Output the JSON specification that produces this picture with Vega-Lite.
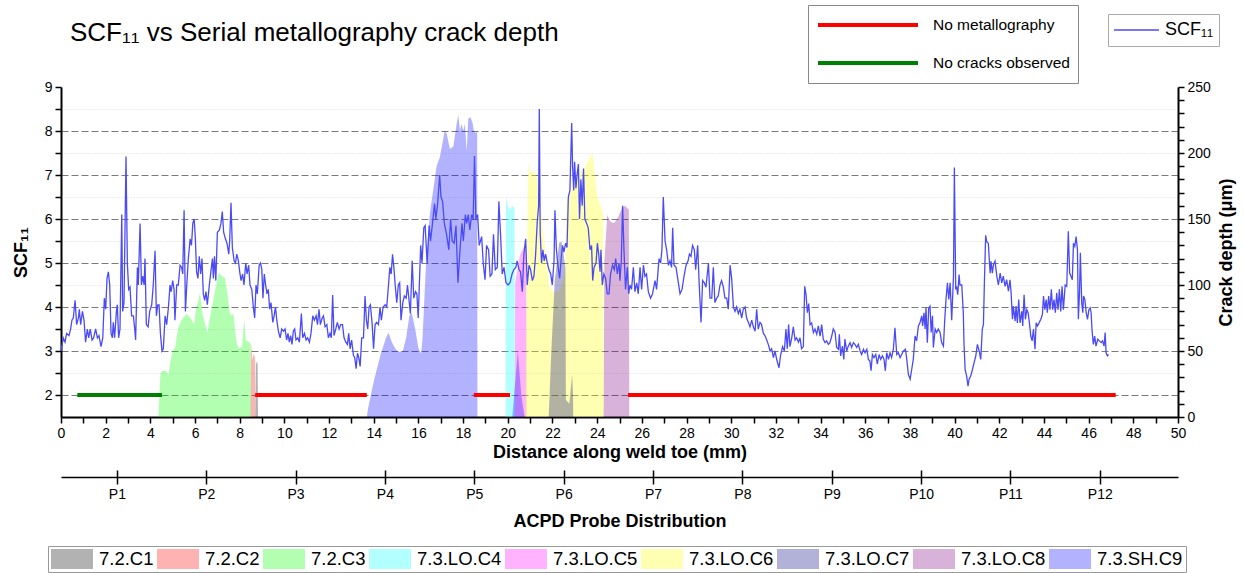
{
  "$schema": "https://vega.github.io/schema/vega-lite/v6.json",
  "width": 1117,
  "height": 330,
  "autosize": {"type": "none"},
  "padding": {"left": 61, "top": 87, "right": 66, "bottom": 156},
  "background": "white",
  "config": {
    "font": "Liberation Sans",
    "view": {"stroke": null},
    "axis": {"labelFont": "Liberation Sans", "titleFont": "Liberation Sans", "labelColor": "black", "titleColor": "black", "domainColor": "black", "tickColor": "black"},
    "legend": {"labelFont": "Liberation Sans", "labelColor": "black"}
  },
  "title": {"text": "SCF₁₁ vs Serial metallography crack depth", "anchor": "start", "frame": "group", "dx": 9, "offset": -62, "baseline": "alphabetic", "fontSize": 26, "fontWeight": "normal", "color": "black", "font": "Liberation Sans"},
  "datasets": {
    "scf": [
      {"mm":0.00,"scf":3.0},{"mm":0.10,"scf":3.3},{"mm":0.18,"scf":3.2},{"mm":0.25,"scf":3.4},{"mm":0.36,"scf":3.35},{"mm":0.43,"scf":3.5},{"mm":0.49,"scf":3.7},{"mm":0.55,"scf":3.75},{"mm":0.63,"scf":4.15},{"mm":0.70,"scf":3.6},{"mm":0.78,"scf":3.75},{"mm":0.82,"scf":3.95},{"mm":0.88,"scf":3.6},{"mm":0.96,"scf":3.9},{"mm":1.03,"scf":3.7},{"mm":1.10,"scf":3.2},{"mm":1.18,"scf":3.5},{"mm":1.24,"scf":3.3},{"mm":1.31,"scf":3.5},{"mm":1.39,"scf":3.25},{"mm":1.46,"scf":3.3},{"mm":1.55,"scf":3.5},{"mm":1.63,"scf":3.3},{"mm":1.70,"scf":3.35},{"mm":1.79,"scf":3.1},{"mm":1.87,"scf":3.3},{"mm":1.94,"scf":4.2},{"mm":2.00,"scf":3.95},{"mm":2.06,"scf":4.65},{"mm":2.12,"scf":4.8},{"mm":2.18,"scf":4.5},{"mm":2.24,"scf":3.4},{"mm":2.30,"scf":3.3},{"mm":2.34,"scf":3.65},{"mm":2.40,"scf":3.3},{"mm":2.48,"scf":3.9},{"mm":2.52,"scf":4.05},{"mm":2.58,"scf":3.3},{"mm":2.64,"scf":3.5},{"mm":2.72,"scf":6.1},{"mm":2.76,"scf":3.9},{"mm":2.82,"scf":4.1},{"mm":2.91,"scf":7.42},{"mm":2.97,"scf":5.0},{"mm":3.03,"scf":4.4},{"mm":3.09,"scf":4.45},{"mm":3.16,"scf":3.8},{"mm":3.24,"scf":3.8},{"mm":3.30,"scf":3.5},{"mm":3.34,"scf":3.25},{"mm":3.42,"scf":4.9},{"mm":3.46,"scf":4.5},{"mm":3.54,"scf":5.9},{"mm":3.60,"scf":4.5},{"mm":3.66,"scf":4.7},{"mm":3.72,"scf":4.5},{"mm":3.76,"scf":5.1},{"mm":3.82,"scf":3.6},{"mm":3.90,"scf":3.55},{"mm":3.97,"scf":3.9},{"mm":4.06,"scf":4.05},{"mm":4.13,"scf":4.5},{"mm":4.21,"scf":5.28},{"mm":4.27,"scf":3.8},{"mm":4.33,"scf":4.05},{"mm":4.39,"scf":4.05},{"mm":4.45,"scf":3.4},{"mm":4.52,"scf":3.0},{"mm":4.58,"scf":3.05},{"mm":4.66,"scf":3.8},{"mm":4.73,"scf":3.6},{"mm":4.81,"scf":4.0},{"mm":4.88,"scf":4.5},{"mm":4.93,"scf":4.35},{"mm":5.00,"scf":4.6},{"mm":5.06,"scf":4.4},{"mm":5.10,"scf":3.7},{"mm":5.18,"scf":4.5},{"mm":5.25,"scf":4.5},{"mm":5.33,"scf":4.95},{"mm":5.40,"scf":4.9},{"mm":5.45,"scf":4.75},{"mm":5.51,"scf":6.2},{"mm":5.57,"scf":3.9},{"mm":5.63,"scf":4.5},{"mm":5.70,"scf":5.1},{"mm":5.78,"scf":5.55},{"mm":5.84,"scf":5.4},{"mm":5.90,"scf":5.9},{"mm":5.96,"scf":6.0},{"mm":6.01,"scf":5.6},{"mm":6.07,"scf":4.8},{"mm":6.13,"scf":4.65},{"mm":6.19,"scf":5.15},{"mm":6.25,"scf":4.75},{"mm":6.31,"scf":5.1},{"mm":6.37,"scf":4.3},{"mm":6.43,"scf":4.15},{"mm":6.49,"scf":4.35},{"mm":6.55,"scf":4.05},{"mm":6.64,"scf":4.5},{"mm":6.72,"scf":4.85},{"mm":6.78,"scf":5.1},{"mm":6.82,"scf":4.65},{"mm":6.87,"scf":5.15},{"mm":6.93,"scf":4.6},{"mm":7.00,"scf":5.7},{"mm":7.09,"scf":5.75},{"mm":7.16,"scf":5.9},{"mm":7.22,"scf":6.17},{"mm":7.28,"scf":5.7},{"mm":7.36,"scf":5.55},{"mm":7.43,"scf":5.45},{"mm":7.51,"scf":5.2},{"mm":7.55,"scf":5.5},{"mm":7.61,"scf":6.37},{"mm":7.67,"scf":5.35},{"mm":7.75,"scf":5.05},{"mm":7.81,"scf":5.0},{"mm":7.87,"scf":5.2},{"mm":7.94,"scf":5.05},{"mm":8.00,"scf":4.8},{"mm":8.06,"scf":4.6},{"mm":8.13,"scf":4.75},{"mm":8.19,"scf":4.5},{"mm":8.27,"scf":5.0},{"mm":8.33,"scf":4.75},{"mm":8.40,"scf":4.95},{"mm":8.46,"scf":4.5},{"mm":8.54,"scf":4.4},{"mm":8.61,"scf":4.0},{"mm":8.67,"scf":3.75},{"mm":8.73,"scf":4.5},{"mm":8.79,"scf":4.3},{"mm":8.87,"scf":4.95},{"mm":8.93,"scf":5.0},{"mm":8.99,"scf":4.85},{"mm":9.04,"scf":4.2},{"mm":9.10,"scf":4.75},{"mm":9.16,"scf":4.5},{"mm":9.22,"scf":4.3},{"mm":9.28,"scf":4.4},{"mm":9.34,"scf":3.95},{"mm":9.40,"scf":4.1},{"mm":9.48,"scf":3.65},{"mm":9.54,"scf":3.8},{"mm":9.60,"scf":4.0},{"mm":9.66,"scf":3.7},{"mm":9.73,"scf":3.45},{"mm":9.81,"scf":3.3},{"mm":9.88,"scf":3.5},{"mm":9.96,"scf":3.45},{"mm":10.03,"scf":3.5},{"mm":10.10,"scf":3.25},{"mm":10.16,"scf":3.4},{"mm":10.22,"scf":3.2},{"mm":10.28,"scf":3.35},{"mm":10.34,"scf":3.15},{"mm":10.40,"scf":3.45},{"mm":10.46,"scf":3.5},{"mm":10.52,"scf":3.25},{"mm":10.60,"scf":3.3},{"mm":10.67,"scf":3.2},{"mm":10.76,"scf":3.85},{"mm":10.82,"scf":3.3},{"mm":10.90,"scf":3.4},{"mm":10.97,"scf":3.25},{"mm":11.04,"scf":3.3},{"mm":11.12,"scf":3.2},{"mm":11.19,"scf":3.4},{"mm":11.27,"scf":3.8},{"mm":11.34,"scf":3.7},{"mm":11.42,"scf":3.8},{"mm":11.48,"scf":3.6},{"mm":11.55,"scf":3.95},{"mm":11.61,"scf":3.6},{"mm":11.69,"scf":3.75},{"mm":11.75,"scf":3.8},{"mm":11.82,"scf":3.55},{"mm":11.90,"scf":3.6},{"mm":11.97,"scf":3.3},{"mm":12.04,"scf":3.4},{"mm":12.10,"scf":3.3},{"mm":12.16,"scf":4.27},{"mm":12.22,"scf":3.35},{"mm":12.30,"scf":3.5},{"mm":12.37,"scf":3.65},{"mm":12.45,"scf":3.5},{"mm":12.52,"scf":3.6},{"mm":12.60,"scf":3.6},{"mm":12.67,"scf":3.3},{"mm":12.75,"scf":3.2},{"mm":12.82,"scf":3.15},{"mm":12.88,"scf":3.4},{"mm":12.94,"scf":3.05},{"mm":13.01,"scf":3.25},{"mm":13.09,"scf":2.9},{"mm":13.15,"scf":2.85},{"mm":13.21,"scf":2.6},{"mm":13.27,"scf":2.95},{"mm":13.33,"scf":2.85},{"mm":13.39,"scf":2.65},{"mm":13.46,"scf":3.3},{"mm":13.54,"scf":3.3},{"mm":13.61,"scf":4.25},{"mm":13.67,"scf":3.7},{"mm":13.73,"scf":3.5},{"mm":13.79,"scf":4.0},{"mm":13.85,"scf":4.05},{"mm":13.93,"scf":3.6},{"mm":13.99,"scf":3.05},{"mm":14.06,"scf":3.6},{"mm":14.13,"scf":3.65},{"mm":14.21,"scf":3.6},{"mm":14.28,"scf":4.0},{"mm":14.34,"scf":3.7},{"mm":14.42,"scf":4.0},{"mm":14.51,"scf":4.05},{"mm":14.58,"scf":4.0},{"mm":14.66,"scf":4.5},{"mm":14.72,"scf":4.9},{"mm":14.78,"scf":4.75},{"mm":14.84,"scf":5.2},{"mm":14.90,"scf":4.9},{"mm":14.96,"scf":4.5},{"mm":15.03,"scf":4.1},{"mm":15.10,"scf":4.5},{"mm":15.16,"scf":4.55},{"mm":15.22,"scf":3.7},{"mm":15.30,"scf":4.1},{"mm":15.37,"scf":4.25},{"mm":15.45,"scf":4.2},{"mm":15.51,"scf":4.5},{"mm":15.57,"scf":4.2},{"mm":15.64,"scf":3.85},{"mm":15.72,"scf":5.05},{"mm":15.79,"scf":4.2},{"mm":15.87,"scf":4.35},{"mm":15.93,"scf":4.3},
      {"mm":15.99,"scf":3.75},{"mm":16.10,"scf":5.4},{"mm":16.16,"scf":5.0},{"mm":16.24,"scf":5.8},{"mm":16.30,"scf":5.85},{"mm":16.39,"scf":5.0},{"mm":16.48,"scf":5.85},{"mm":16.54,"scf":5.5},{"mm":16.63,"scf":5.9},{"mm":16.72,"scf":6.35},{"mm":16.78,"scf":6.0},{"mm":16.86,"scf":6.35},{"mm":16.95,"scf":7.0},{"mm":17.01,"scf":6.5},{"mm":17.08,"scf":6.4},{"mm":17.16,"scf":5.9},{"mm":17.26,"scf":5.65},{"mm":17.36,"scf":5.3},{"mm":17.44,"scf":6.0},{"mm":17.51,"scf":5.5},{"mm":17.60,"scf":5.45},{"mm":17.68,"scf":5.85},{"mm":17.77,"scf":4.55},{"mm":17.86,"scf":5.3},{"mm":17.95,"scf":5.9},{"mm":18.01,"scf":5.5},{"mm":18.10,"scf":6.1},{"mm":18.16,"scf":5.9},{"mm":18.23,"scf":6.1},{"mm":18.30,"scf":5.75},{"mm":18.38,"scf":6.1},{"mm":18.45,"scf":6.0},{"mm":18.51,"scf":7.43},{"mm":18.57,"scf":6.0},{"mm":18.65,"scf":6.1},{"mm":18.72,"scf":5.4},{"mm":18.83,"scf":5.6},{"mm":18.90,"scf":5.0},{"mm":18.98,"scf":4.62},{"mm":19.05,"scf":5.4},{"mm":19.14,"scf":5.3},{"mm":19.21,"scf":4.7},{"mm":19.29,"scf":4.75},{"mm":19.36,"scf":5.65},{"mm":19.44,"scf":4.85},{"mm":19.53,"scf":4.9},{"mm":19.60,"scf":6.4},{"mm":19.68,"scf":5.6},{"mm":19.75,"scf":4.75},{"mm":19.83,"scf":4.9},{"mm":19.92,"scf":4.55},{"mm":20.01,"scf":4.5},{"mm":20.10,"scf":4.55},{"mm":20.19,"scf":4.75},{"mm":20.27,"scf":4.85},{"mm":20.36,"scf":4.9},{"mm":20.42,"scf":5.05},{"mm":20.50,"scf":4.85},{"mm":20.57,"scf":4.8},{"mm":20.65,"scf":4.35},{"mm":20.72,"scf":5.2},{"mm":20.80,"scf":5.55},{"mm":20.87,"scf":4.5},{"mm":20.95,"scf":4.95},{"mm":21.02,"scf":4.85},{"mm":21.10,"scf":4.6},{"mm":21.17,"scf":4.7},{"mm":21.24,"scf":5.15},{"mm":21.32,"scf":5.95},{"mm":21.38,"scf":6.3},{"mm":21.41,"scf":8.5},{"mm":21.45,"scf":5.7},{"mm":21.51,"scf":5.0},{"mm":21.57,"scf":5.3},{"mm":21.63,"scf":5.05},{"mm":21.69,"scf":5.2},{"mm":21.77,"scf":5.0},{"mm":21.84,"scf":4.85},{"mm":21.92,"scf":4.75},{"mm":21.99,"scf":4.5},{"mm":22.07,"scf":5.05},{"mm":22.11,"scf":6.2},{"mm":22.17,"scf":5.35},{"mm":22.24,"scf":4.95},{"mm":22.32,"scf":4.65},{"mm":22.39,"scf":5.1},{"mm":22.45,"scf":5.4},{"mm":22.51,"scf":5.25},{"mm":22.59,"scf":5.45},{"mm":22.65,"scf":5.35},{"mm":22.71,"scf":6.5},{"mm":22.78,"scf":6.65},{"mm":22.86,"scf":8.18},{"mm":22.90,"scf":7.2},{"mm":22.95,"scf":6.65},{"mm":22.99,"scf":7.3},{"mm":23.05,"scf":6.7},{"mm":23.10,"scf":7.0},{"mm":23.16,"scf":7.25},{"mm":23.21,"scf":6.0},{"mm":23.27,"scf":6.9},{"mm":23.33,"scf":6.3},{"mm":23.39,"scf":7.15},{"mm":23.45,"scf":6.0},{"mm":23.53,"scf":5.9},{"mm":23.60,"scf":5.8},{"mm":23.68,"scf":5.3},{"mm":23.75,"scf":5.4},{"mm":23.80,"scf":4.6},{"mm":23.86,"scf":4.9},{"mm":23.95,"scf":5.0},{"mm":24.01,"scf":5.45},{"mm":24.07,"scf":5.2},{"mm":24.13,"scf":4.8},{"mm":24.17,"scf":5.3},{"mm":24.23,"scf":4.5},{"mm":24.30,"scf":4.75},{"mm":24.38,"scf":4.65},{"mm":24.45,"scf":4.3},{"mm":24.53,"scf":4.3},{"mm":24.60,"scf":4.75},{"mm":24.69,"scf":4.95},{"mm":24.77,"scf":4.85},{"mm":24.83,"scf":5.1},{"mm":24.90,"scf":4.75},{"mm":24.98,"scf":5.0},{"mm":25.02,"scf":4.6},{"mm":25.08,"scf":5.05},{"mm":25.14,"scf":6.3},{"mm":25.20,"scf":5.3},{"mm":25.27,"scf":4.4},{"mm":25.35,"scf":4.9},{"mm":25.41,"scf":4.3},{"mm":25.47,"scf":4.5},{"mm":25.54,"scf":4.4},{"mm":25.62,"scf":4.9},{"mm":25.69,"scf":4.35},{"mm":25.77,"scf":4.55},{"mm":25.84,"scf":4.3},{"mm":25.92,"scf":4.9},{"mm":25.99,"scf":4.4},{"mm":26.07,"scf":4.95},{"mm":26.14,"scf":4.7},{"mm":26.21,"scf":4.75},{"mm":26.29,"scf":4.35},{"mm":26.39,"scf":4.2},{"mm":26.48,"scf":4.3},{"mm":26.59,"scf":4.6},{"mm":26.66,"scf":4.4},{"mm":26.77,"scf":5.1},{"mm":26.84,"scf":5.0},{"mm":26.90,"scf":5.3},{"mm":26.96,"scf":6.5},{"mm":27.04,"scf":5.5},{"mm":27.11,"scf":5.3},{"mm":27.19,"scf":4.95},{"mm":27.26,"scf":5.05},{"mm":27.33,"scf":4.9},{"mm":27.38,"scf":5.8},{"mm":27.44,"scf":4.95},{"mm":27.53,"scf":4.9},{"mm":27.62,"scf":4.6},{"mm":27.71,"scf":4.3},{"mm":27.80,"scf":4.4},{"mm":27.89,"scf":4.7},{"mm":27.98,"scf":4.95},{"mm":28.07,"scf":5.05},{"mm":28.13,"scf":5.2},{"mm":28.20,"scf":5.15},{"mm":28.27,"scf":5.4},{"mm":28.35,"scf":5.3},{"mm":28.41,"scf":4.85},{"mm":28.50,"scf":5.4},{"mm":28.56,"scf":4.6},{"mm":28.65,"scf":3.65},{"mm":28.72,"scf":4.6},{"mm":28.80,"scf":4.55},{"mm":28.87,"scf":4.45},{"mm":28.98,"scf":5.0},{"mm":29.05,"scf":4.2},{"mm":29.13,"scf":4.2},{"mm":29.20,"scf":4.9},{"mm":29.27,"scf":4.1},{"mm":29.35,"scf":4.2},{"mm":29.42,"scf":4.25},{"mm":29.50,"scf":4.5},{"mm":29.57,"scf":4.6},{"mm":29.65,"scf":4.45},{"mm":29.72,"scf":4.2},{"mm":29.80,"scf":4.2},{"mm":29.87,"scf":3.95},{"mm":29.95,"scf":4.95},{"mm":30.02,"scf":4.65},{"mm":30.10,"scf":4.0},{"mm":30.17,"scf":3.9},{"mm":30.24,"scf":4.0},{"mm":30.32,"scf":3.85},{"mm":30.39,"scf":3.95},{"mm":30.47,"scf":3.75},{"mm":30.54,"scf":3.95},{"mm":30.62,"scf":4.0},{"mm":30.69,"scf":3.75},{"mm":30.77,"scf":3.65},{"mm":30.84,"scf":3.55},{"mm":30.92,"scf":3.7},{"mm":30.99,"scf":3.55},{"mm":31.07,"scf":3.45},{"mm":31.14,"scf":3.95},{"mm":31.21,"scf":3.5},{"mm":31.29,"scf":3.65},{"mm":31.36,"scf":3.6},{"mm":31.44,"scf":3.4},{"mm":31.51,"scf":3.35},{"mm":31.59,"scf":3.25},{"mm":31.66,"scf":3.15},{"mm":31.74,"scf":3.0},{"mm":31.81,"scf":3.05},{"mm":31.89,"scf":2.85},{"mm":31.96,"scf":3.0},{"mm":32.04,"scf":2.8},{"mm":32.14,"scf":2.62},{"mm":32.21,"scf":2.9},{"mm":32.30,"scf":3.1},{"mm":32.38,"scf":3.0},{"mm":32.45,"scf":3.5},{"mm":32.51,"scf":3.05},{"mm":32.57,"scf":3.6},{"mm":32.63,"scf":3.1},{"mm":32.71,"scf":3.3},{"mm":32.78,"scf":3.55},{"mm":32.86,"scf":3.25},{"mm":32.93,"scf":3.3},{"mm":33.01,"scf":3.2},{"mm":33.08,"scf":3.3},
      {"mm":33.15,"scf":3.05},{"mm":33.23,"scf":3.1},{"mm":33.29,"scf":4.47},{"mm":33.35,"scf":4.28},{"mm":33.41,"scf":3.87},{"mm":33.47,"scf":4.08},{"mm":33.53,"scf":3.6},{"mm":33.60,"scf":3.64},{"mm":33.68,"scf":3.42},{"mm":33.75,"scf":3.5},{"mm":33.83,"scf":3.38},{"mm":33.90,"scf":3.57},{"mm":33.98,"scf":3.34},{"mm":34.05,"scf":3.6},{"mm":34.12,"scf":3.27},{"mm":34.20,"scf":3.19},{"mm":34.27,"scf":3.23},{"mm":34.35,"scf":3.15},{"mm":34.42,"scf":3.19},{"mm":34.50,"scf":3.34},{"mm":34.57,"scf":3.5},{"mm":34.65,"scf":3.42},{"mm":34.72,"scf":3.08},{"mm":34.80,"scf":3.04},{"mm":34.84,"scf":3.38},{"mm":34.90,"scf":2.89},{"mm":34.98,"scf":3.11},{"mm":35.04,"scf":2.81},{"mm":35.09,"scf":3.27},{"mm":35.17,"scf":3.0},{"mm":35.24,"scf":3.11},{"mm":35.32,"scf":3.19},{"mm":35.39,"scf":3.08},{"mm":35.47,"scf":3.19},{"mm":35.54,"scf":3.15},{"mm":35.62,"scf":3.08},{"mm":35.69,"scf":3.15},{"mm":35.77,"scf":3.0},{"mm":35.84,"scf":2.92},{"mm":35.92,"scf":3.04},{"mm":35.99,"scf":2.96},{"mm":36.07,"scf":3.04},{"mm":36.14,"scf":2.81},{"mm":36.21,"scf":2.77},{"mm":36.26,"scf":2.55},{"mm":36.32,"scf":2.92},{"mm":36.39,"scf":2.85},{"mm":36.47,"scf":2.92},{"mm":36.54,"scf":2.7},{"mm":36.62,"scf":2.92},{"mm":36.69,"scf":2.81},{"mm":36.77,"scf":2.89},{"mm":36.84,"scf":2.81},{"mm":36.90,"scf":2.55},{"mm":36.96,"scf":2.96},{"mm":37.04,"scf":2.81},{"mm":37.11,"scf":2.96},{"mm":37.18,"scf":2.85},{"mm":37.26,"scf":3.04},{"mm":37.33,"scf":3.53},{"mm":37.41,"scf":2.92},{"mm":37.48,"scf":2.96},{"mm":37.56,"scf":2.85},{"mm":37.63,"scf":2.92},{"mm":37.71,"scf":3.0},{"mm":37.80,"scf":3.04},{"mm":37.86,"scf":2.81},{"mm":37.93,"scf":2.47},{"mm":38.01,"scf":2.36},{"mm":38.08,"scf":2.58},{"mm":38.15,"scf":2.81},{"mm":38.23,"scf":3.34},{"mm":38.30,"scf":3.23},{"mm":38.38,"scf":3.57},{"mm":38.45,"scf":3.64},{"mm":38.53,"scf":3.8},{"mm":38.57,"scf":3.57},{"mm":38.63,"scf":3.87},{"mm":38.68,"scf":3.5},{"mm":38.72,"scf":3.98},{"mm":38.78,"scf":3.19},{"mm":38.84,"scf":3.98},{"mm":38.90,"scf":4.02},{"mm":38.95,"scf":3.42},{"mm":39.01,"scf":3.8},{"mm":39.05,"scf":3.08},{"mm":39.13,"scf":3.5},{"mm":39.20,"scf":3.42},{"mm":39.27,"scf":3.5},{"mm":39.35,"scf":3.42},{"mm":39.42,"scf":3.19},{"mm":39.50,"scf":3.11},{"mm":39.56,"scf":3.72},{"mm":39.62,"scf":4.2},{"mm":39.68,"scf":4.55},{"mm":39.74,"scf":4.17},{"mm":39.80,"scf":4.55},{"mm":39.87,"scf":3.7},{"mm":39.95,"scf":4.7},{"mm":39.99,"scf":7.17},{"mm":40.05,"scf":4.4},{"mm":40.09,"scf":4.47},{"mm":40.14,"scf":4.28},{"mm":40.20,"scf":4.74},{"mm":40.24,"scf":4.5},{"mm":40.32,"scf":4.5},{"mm":40.39,"scf":3.87},{"mm":40.42,"scf":3.19},{"mm":40.47,"scf":2.58},{"mm":40.54,"scf":2.43},{"mm":40.60,"scf":2.2},{"mm":40.65,"scf":2.36},{"mm":40.72,"scf":2.43},{"mm":40.80,"scf":2.58},{"mm":40.87,"scf":2.73},{"mm":40.95,"scf":2.89},{"mm":41.02,"scf":3.15},{"mm":41.10,"scf":3.0},{"mm":41.17,"scf":2.81},{"mm":41.24,"scf":3.5},{"mm":41.29,"scf":3.6},{"mm":41.33,"scf":4.47},{"mm":41.39,"scf":5.63},{"mm":41.44,"scf":5.48},{"mm":41.51,"scf":5.45},{"mm":41.59,"scf":4.77},{"mm":41.63,"scf":5.04},{"mm":41.69,"scf":4.77},{"mm":41.74,"scf":4.96},{"mm":41.81,"scf":5.04},{"mm":41.89,"scf":4.7},{"mm":41.96,"scf":4.5},{"mm":42.04,"scf":4.77},{"mm":42.11,"scf":4.55},{"mm":42.18,"scf":4.7},{"mm":42.26,"scf":4.47},{"mm":42.33,"scf":4.62},{"mm":42.41,"scf":4.36},{"mm":42.48,"scf":4.62},{"mm":42.53,"scf":4.32},{"mm":42.59,"scf":3.72},{"mm":42.63,"scf":4.02},{"mm":42.71,"scf":3.68},{"mm":42.75,"scf":4.02},{"mm":42.81,"scf":3.64},{"mm":42.87,"scf":4.17},{"mm":42.93,"scf":3.64},{"mm":43.01,"scf":3.9},{"mm":43.05,"scf":3.57},{"mm":43.11,"scf":4.28},{"mm":43.17,"scf":3.72},{"mm":43.23,"scf":3.94},{"mm":43.29,"scf":3.87},{"mm":43.35,"scf":3.64},{"mm":43.41,"scf":3.34},{"mm":43.47,"scf":3.23},{"mm":43.53,"scf":3.5},{"mm":43.60,"scf":3.04},{"mm":43.65,"scf":3.64},{"mm":43.71,"scf":3.57},{"mm":43.78,"scf":3.64},{"mm":43.86,"scf":3.72},{"mm":43.93,"scf":3.83},{"mm":43.98,"scf":4.25},{"mm":44.04,"scf":3.94},{"mm":44.10,"scf":4.17},{"mm":44.15,"scf":3.87},{"mm":44.21,"scf":4.25},{"mm":44.27,"scf":3.94},{"mm":44.33,"scf":4.4},{"mm":44.39,"scf":3.94},{"mm":44.45,"scf":4.17},{"mm":44.51,"scf":3.87},{"mm":44.57,"scf":4.32},{"mm":44.63,"scf":3.94},{"mm":44.69,"scf":4.4},{"mm":44.75,"scf":3.9},{"mm":44.81,"scf":4.47},{"mm":44.87,"scf":3.94},{"mm":44.95,"scf":4.5},{"mm":45.02,"scf":4.47},{"mm":45.09,"scf":5.72},{"mm":45.15,"scf":4.77},{"mm":45.21,"scf":4.7},{"mm":45.27,"scf":4.62},{"mm":45.32,"scf":5.45},{"mm":45.38,"scf":5.38},{"mm":45.44,"scf":5.6},{"mm":45.50,"scf":5.3},{"mm":45.54,"scf":3.72},{"mm":45.59,"scf":4.32},{"mm":45.63,"scf":5.23},{"mm":45.69,"scf":4.1},{"mm":45.74,"scf":3.87},{"mm":45.77,"scf":4.25},{"mm":45.83,"scf":4.17},{"mm":45.89,"scf":3.87},{"mm":45.95,"scf":3.72},{"mm":46.01,"scf":3.94},{"mm":46.07,"scf":3.98},{"mm":46.11,"scf":3.87},{"mm":46.15,"scf":3.49},{"mm":46.21,"scf":3.15},{"mm":46.27,"scf":3.34},{"mm":46.33,"scf":3.11},{"mm":46.41,"scf":3.27},{"mm":46.48,"scf":3.23},{"mm":46.56,"scf":3.19},{"mm":46.62,"scf":3.23},{"mm":46.69,"scf":3.11},{"mm":46.74,"scf":3.42},{"mm":46.78,"scf":2.96},{"mm":46.84,"scf":2.89},{"mm":46.89,"scf":2.92}
    ],
    "cracks": [
      {"crack":"7.2.C1","mm":8.70,"depth":0},{"crack":"7.2.C1","mm":8.72,"depth":43},{"crack":"7.2.C1","mm":8.77,"depth":40},{"crack":"7.2.C1","mm":8.80,"depth":42},{"crack":"7.2.C1","mm":8.82,"depth":0},
      {"crack":"7.2.C2","mm":8.49,"depth":0},{"crack":"7.2.C2","mm":8.51,"depth":56},{"crack":"7.2.C2","mm":8.57,"depth":43},{"crack":"7.2.C2","mm":8.62,"depth":48},{"crack":"7.2.C2","mm":8.68,"depth":45},{"crack":"7.2.C2","mm":8.70,"depth":0},
      {"crack":"7.2.C3","mm":4.36,"depth":0},{"crack":"7.2.C3","mm":4.45,"depth":33},{"crack":"7.2.C3","mm":4.54,"depth":35},{"crack":"7.2.C3","mm":4.70,"depth":35},{"crack":"7.2.C3","mm":4.80,"depth":32},{"crack":"7.2.C3","mm":4.90,"depth":42},{"crack":"7.2.C3","mm":4.99,"depth":50},{"crack":"7.2.C3","mm":5.10,"depth":52},{"crack":"7.2.C3","mm":5.25,"depth":68},{"crack":"7.2.C3","mm":5.45,"depth":75},{"crack":"7.2.C3","mm":5.63,"depth":78},{"crack":"7.2.C3","mm":5.80,"depth":75},{"crack":"7.2.C3","mm":5.95,"depth":70},{"crack":"7.2.C3","mm":6.05,"depth":82},{"crack":"7.2.C3","mm":6.22,"depth":94},{"crack":"7.2.C3","mm":6.35,"depth":77},{"crack":"7.2.C3","mm":6.55,"depth":64},{"crack":"7.2.C3","mm":6.75,"depth":83},{"crack":"7.2.C3","mm":6.95,"depth":100},{"crack":"7.2.C3","mm":7.05,"depth":109},{"crack":"7.2.C3","mm":7.20,"depth":107},{"crack":"7.2.C3","mm":7.35,"depth":105},{"crack":"7.2.C3","mm":7.45,"depth":93},{"crack":"7.2.C3","mm":7.55,"depth":79},{"crack":"7.2.C3","mm":7.62,"depth":77},{"crack":"7.2.C3","mm":7.72,"depth":78},{"crack":"7.2.C3","mm":7.85,"depth":57},{"crack":"7.2.C3","mm":7.95,"depth":52},{"crack":"7.2.C3","mm":8.10,"depth":53},{"crack":"7.2.C3","mm":8.20,"depth":74},{"crack":"7.2.C3","mm":8.28,"depth":58},{"crack":"7.2.C3","mm":8.40,"depth":57},{"crack":"7.2.C3","mm":8.50,"depth":55},{"crack":"7.2.C3","mm":8.51,"depth":0},
      {"crack":"7.3.LO.C4","mm":19.90,"depth":0},{"crack":"7.3.LO.C4","mm":19.92,"depth":167},{"crack":"7.3.LO.C4","mm":20.00,"depth":160},{"crack":"7.3.LO.C4","mm":20.10,"depth":157},{"crack":"7.3.LO.C4","mm":20.20,"depth":160},{"crack":"7.3.LO.C4","mm":20.30,"depth":158},{"crack":"7.3.LO.C4","mm":20.32,"depth":0},
      {"crack":"7.3.LO.C5","mm":20.31,"depth":0},{"crack":"7.3.LO.C5","mm":20.33,"depth":102},{"crack":"7.3.LO.C5","mm":20.45,"depth":113},{"crack":"7.3.LO.C5","mm":20.55,"depth":123},{"crack":"7.3.LO.C5","mm":20.70,"depth":128},{"crack":"7.3.LO.C5","mm":20.82,"depth":127},{"crack":"7.3.LO.C5","mm":20.84,"depth":0},
      {"crack":"7.3.LO.C6","mm":20.78,"depth":0},{"crack":"7.3.LO.C6","mm":20.85,"depth":117},{"crack":"7.3.LO.C6","mm":20.92,"depth":193},{"crack":"7.3.LO.C6","mm":21.00,"depth":185},{"crack":"7.3.LO.C6","mm":21.12,"depth":187},{"crack":"7.3.LO.C6","mm":21.25,"depth":183},{"crack":"7.3.LO.C6","mm":21.35,"depth":180},{"crack":"7.3.LO.C6","mm":21.55,"depth":147},{"crack":"7.3.LO.C6","mm":21.70,"depth":123},{"crack":"7.3.LO.C6","mm":21.85,"depth":100},{"crack":"7.3.LO.C6","mm":22.00,"depth":95},{"crack":"7.3.LO.C6","mm":22.30,"depth":95},{"crack":"7.3.LO.C6","mm":22.58,"depth":110},{"crack":"7.3.LO.C6","mm":22.62,"depth":163},{"crack":"7.3.LO.C6","mm":22.80,"depth":170},{"crack":"7.3.LO.C6","mm":23.00,"depth":180},{"crack":"7.3.LO.C6","mm":23.20,"depth":187},{"crack":"7.3.LO.C6","mm":23.40,"depth":187},{"crack":"7.3.LO.C6","mm":23.55,"depth":193},{"crack":"7.3.LO.C6","mm":23.78,"depth":200},{"crack":"7.3.LO.C6","mm":23.90,"depth":183},{"crack":"7.3.LO.C6","mm":24.00,"depth":167},{"crack":"7.3.LO.C6","mm":24.15,"depth":160},{"crack":"7.3.LO.C6","mm":24.27,"depth":153},{"crack":"7.3.LO.C6","mm":24.29,"depth":0},
      {"crack":"7.3.LO.C7","mm":21.83,"depth":0},{"crack":"7.3.LO.C7","mm":21.95,"depth":50},{"crack":"7.3.LO.C7","mm":22.10,"depth":103},{"crack":"7.3.LO.C7","mm":22.30,"depth":132},{"crack":"7.3.LO.C7","mm":22.40,"depth":133},{"crack":"7.3.LO.C7","mm":22.50,"depth":123},{"crack":"7.3.LO.C7","mm":22.58,"depth":113},{"crack":"7.3.LO.C7","mm":22.60,"depth":13},{"crack":"7.3.LO.C7","mm":22.75,"depth":10},{"crack":"7.3.LO.C7","mm":22.88,"depth":32},{"crack":"7.3.LO.C7","mm":22.92,"depth":17},{"crack":"7.3.LO.C7","mm":22.93,"depth":0},
      {"crack":"7.3.LO.C8","mm":24.29,"depth":0},{"crack":"7.3.LO.C8","mm":24.32,"depth":117},{"crack":"7.3.LO.C8","mm":24.45,"depth":153},{"crack":"7.3.LO.C8","mm":24.60,"depth":148},{"crack":"7.3.LO.C8","mm":24.75,"depth":147},{"crack":"7.3.LO.C8","mm":24.90,"depth":150},{"crack":"7.3.LO.C8","mm":25.10,"depth":158},{"crack":"7.3.LO.C8","mm":25.25,"depth":160},{"crack":"7.3.LO.C8","mm":25.42,"depth":157},{"crack":"7.3.LO.C8","mm":25.44,"depth":0},
      {"crack":"7.3.SH.C9","mm":13.69,"depth":0},{"crack":"7.3.SH.C9","mm":13.75,"depth":7},{"crack":"7.3.SH.C9","mm":14.00,"depth":27},{"crack":"7.3.SH.C9","mm":14.30,"depth":47},{"crack":"7.3.SH.C9","mm":14.55,"depth":60},{"crack":"7.3.SH.C9","mm":14.66,"depth":64},{"crack":"7.3.SH.C9","mm":14.80,"depth":57},{"crack":"7.3.SH.C9","mm":14.95,"depth":52},{"crack":"7.3.SH.C9","mm":15.10,"depth":49},{"crack":"7.3.SH.C9","mm":15.30,"depth":50},{"crack":"7.3.SH.C9","mm":15.45,"depth":60},{"crack":"7.3.SH.C9","mm":15.60,"depth":77},{"crack":"7.3.SH.C9","mm":15.70,"depth":79},{"crack":"7.3.SH.C9","mm":15.85,"depth":67},{"crack":"7.3.SH.C9","mm":16.00,"depth":52},{"crack":"7.3.SH.C9","mm":16.12,"depth":48},{"crack":"7.3.SH.C9","mm":16.18,"depth":59},{"crack":"7.3.SH.C9","mm":16.35,"depth":120},{"crack":"7.3.SH.C9","mm":16.51,"depth":154},{"crack":"7.3.SH.C9","mm":16.81,"depth":190},{"crack":"7.3.SH.C9","mm":16.96,"depth":197},{"crack":"7.3.SH.C9","mm":17.18,"depth":217},{"crack":"7.3.SH.C9","mm":17.26,"depth":215},{"crack":"7.3.SH.C9","mm":17.41,"depth":203},{"crack":"7.3.SH.C9","mm":17.56,"depth":205},{"crack":"7.3.SH.C9","mm":17.71,"depth":222},{"crack":"7.3.SH.C9","mm":17.78,"depth":229},{"crack":"7.3.SH.C9","mm":17.86,"depth":217},{"crack":"7.3.SH.C9","mm":17.93,"depth":222},{"crack":"7.3.SH.C9","mm":18.01,"depth":217},{"crack":"7.3.SH.C9","mm":18.08,"depth":222},{"crack":"7.3.SH.C9","mm":18.16,"depth":201},{"crack":"7.3.SH.C9","mm":18.23,"depth":226},{"crack":"7.3.SH.C9","mm":18.33,"depth":227},{"crack":"7.3.SH.C9","mm":18.42,"depth":223},{"crack":"7.3.SH.C9","mm":18.48,"depth":217},{"crack":"7.3.SH.C9","mm":18.57,"depth":215},{"crack":"7.3.SH.C9","mm":18.63,"depth":217},{"crack":"7.3.SH.C9","mm":18.64,"depth":0},{"crack":"7.3.SH.C9","mm":20.20,"depth":0},{"crack":"7.3.SH.C9","mm":20.45,"depth":50},{"crack":"7.3.SH.C9","mm":20.60,"depth":17},{"crack":"7.3.SH.C9","mm":20.75,"depth":0}
    ],
    "bars": [
      {"status":"No cracks observed","start":0.73,"end":4.52},
      {"status":"No metallography","start":8.69,"end":13.69},
      {"status":"No metallography","start":18.48,"end":20.10},
      {"status":"No metallography","start":25.38,"end":47.21}
    ]
  },
  "layer": [
    {
      "data": {"name": "cracks"},
      "mark": {"type": "area", "interpolate": "linear"},
      "encoding": {
        "x": {
          "field": "mm", "type": "quantitative",
          "scale": {"domain": [0, 50], "nice": false, "zero": false},
          "axis": {
            "orient": "bottom",
            "values": [0,1,2,3,4,5,6,7,8,9,10,11,12,13,14,15,16,17,18,19,20,21,22,23,24,25,26,27,28,29,30,31,32,33,34,35,36,37,38,39,40,41,42,43,44,45,46,47,48,49,50],
            "labelExpr": "datum.value % 2 === 0 ? format(datum.value, 'd') : ''",
            "tickSize": 6,
            "encode": {"ticks": {"update": {"y2": {"signal": "datum.value % 2 === 0 ? 6 : 3"}}}},
            "tickWidth": 1.5,
            "domainWidth": 2,
            "labelFontSize": 14,
            "labelPadding": 3,
            "labelFlush": false,
            "labelOverlap": false,
            "grid": false,
            "title": "Distance along weld toe (mm)",
            "titleFontSize": 18,
            "titleFontWeight": "bold",
            "titlePadding": 3
          }
        },
        "y": {
          "field": "depth", "type": "quantitative", "stack": null,
          "scale": {"domain": [0, 250], "nice": false},
          "axis": {
            "orient": "right",
            "values": [0,10,20,30,40,50,60,70,80,90,100,110,120,130,140,150,160,170,180,190,200,210,220,230,240,250],
            "labelExpr": "datum.value % 50 === 0 ? format(datum.value, 'd') : ''",
            "tickSize": 6,
            "encode": {"ticks": {"update": {"x2": {"signal": "datum.value % 50 === 0 ? 6 : 3"}}}},
            "tickWidth": 1.5,
            "domainWidth": 2,
            "labelFontSize": 14,
            "labelPadding": 3,
            "labelOverlap": false,
            "labelFlush": false,
            "grid": false,
            "title": "Crack depth (μm)",
            "titleFontSize": 18,
            "titleFontWeight": "bold",
            "titleAngle": 270,
            "titleBaseline": "top",
            "titlePadding": 7
          }
        },
        "fill": {
          "field": "crack", "type": "nominal",
          "scale": {
            "domain": ["7.2.C1","7.2.C2","7.2.C3","7.3.LO.C4","7.3.LO.C5","7.3.LO.C6","7.3.LO.C7","7.3.LO.C8","7.3.SH.C9"],
            "range": ["rgba(0,0,0,0.3)","rgba(255,0,0,0.3)","rgba(0,255,0,0.3)","rgba(0,255,255,0.3)","rgba(255,0,255,0.3)","rgba(255,255,0,0.3)","rgba(0,0,128,0.3)","rgba(128,0,128,0.3)","rgba(0,0,255,0.3)"]
          },
          "legend": {
            "title": null,
            "orient": "none",
            "legendX": -13,
            "legendY": 459,
            "direction": "horizontal",
            "columns": 9,
            "symbolType": "M-2.1,-1H2.1V1H-2.1Z",
            "symbolSize": 400,
            "symbolStrokeWidth": 0,
            "symbolOffset": 11,
            "labelOffset": 17,
            "labelFontSize": 18.5,
            "columnPadding": 3,
            "padding": 3,
            "strokeColor": "#999999",
            "fillColor": "white"
          }
        }
      }
    },
    {
      "data": {"name": "scf"},
      "mark": {"type": "line", "strokeWidth": 1.3, "interpolate": "linear"},
      "encoding": {
        "x": {
          "field": "mm", "type": "quantitative",
          "axis": {
            "orient": "bottom",
            "offset": 53,
            "values": [2.5,6.5,10.5,14.5,18.5,22.5,26.5,30.5,34.5,38.5,42.5,46.5],
            "labelExpr": "'P' + (round((datum.value - 2.5) / 4) + 1)",
            "domain": false,
            "grid": false,
            "tickSize": 14,
            "tickWidth": 1.5,
            "labelFontSize": 14,
            "labelPadding": 3,
            "labelFlush": false,
            "labelOverlap": false,
            "title": "ACPD Probe Distribution",
            "titleFontSize": 18,
            "titleFontWeight": "bold",
            "titlePadding": 11
          }
        },
        "y": {
          "field": "scf", "type": "quantitative",
          "scale": {"domain": [1.5, 9], "nice": false, "zero": false},
          "axis": {
            "orient": "left",
            "values": [2,2.5,3,3.5,4,4.5,5,5.5,6,6.5,7,7.5,8,8.5,9],
            "labelExpr": "datum.value % 1 === 0 ? format(datum.value, 'd') : ''",
            "tickSize": 6,
            "encode": {"ticks": {"update": {"x2": {"signal": "datum.value % 1 === 0 ? -6 : -3"}}}},
            "tickWidth": 1.5,
            "domainWidth": 2,
            "labelFontSize": 14,
            "labelPadding": 3,
            "labelOverlap": false,
            "labelFlush": false,
            "grid": true,
            "gridColor": {"condition": {"test": "datum.value % 1 === 0", "value": "#7a7a7a"}, "value": "#d8d8d8"},
            "gridDash": {"condition": {"test": "datum.value % 1 === 0", "value": [7, 3]}, "value": [1, 2]},
            "gridOpacity": {"condition": {"test": "datum.value === 9", "value": 0}, "value": 1},
            "gridWidth": 1,
            "title": "SCF₁₁",
            "titleFontSize": 18,
            "titleFontWeight": "bold",
            "titlePadding": 14
          }
        },
        "stroke": {
          "datum": "SCF₁₁", "type": "nominal",
          "scale": {"range": ["#4b4bf5"]},
          "legend": {
            "title": null,
            "orient": "none",
            "legendX": 1047,
            "legendY": -73,
            "symbolType": "stroke",
            "symbolSize": 2025,
            "symbolStrokeWidth": 1.5,
            "clipHeight": 22,
            "padding": 5,
            "labelFontSize": 18,
            "labelOffset": 5,
            "strokeColor": "#aaaaaa",
            "fillColor": "white"
          }
        }
      }
    },
    {
      "data": {"name": "bars"},
      "mark": {"type": "rule", "strokeWidth": 4, "strokeCap": "butt"},
      "encoding": {
        "x": {
          "field": "start", "type": "quantitative",
          "axis": {
            "orient": "bottom",
            "offset": 60,
            "domain": true,
            "domainWidth": 1.5,
            "domainColor": "black",
            "ticks": false,
            "labels": false,
            "grid": false,
            "title": null
          }
        },
        "x2": {"field": "end"},
        "y": {"datum": 2, "type": "quantitative", "scale": {"domain": [1.5, 9], "nice": false, "zero": false}, "axis": null},
        "color": {
          "field": "status", "type": "nominal",
          "scale": {"domain": ["No metallography", "No cracks observed"], "range": ["#ff0000", "#008000"]},
          "legend": {
            "title": null,
            "orient": "none",
            "legendX": 747,
            "legendY": -82,
            "direction": "vertical",
            "symbolType": "stroke",
            "symbolSize": 10000,
            "symbolStrokeWidth": 4,
            "clipHeight": 24,
            "rowPadding": 14,
            "padding": 8,
            "labelFontSize": 15.5,
            "labelOffset": 13,
            "strokeColor": "#888888",
            "fillColor": "white"
          }
        }
      }
    }
  ],
  "resolve": {"scale": {"y": "independent"}, "axis": {"x": "independent"}}
}
